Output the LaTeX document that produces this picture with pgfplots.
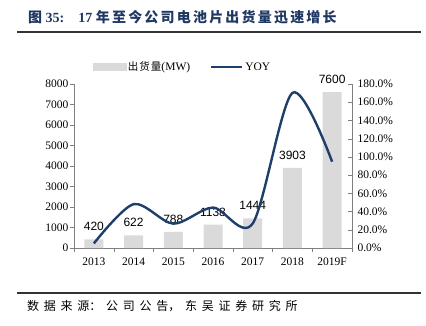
\documentclass[border=0pt]{standalone}
\usepackage{pgfplots}
\pgfplotsset{compat=1.18}
\usepackage{fontspec}
\setmainfont{Liberation Serif}
\newfontfamily\cjk{Noto Sans CJK SC}
\newfontfamily\arial{Liberation Sans}
\definecolor{navy}{HTML}{1F3F6B}
\definecolor{barg}{HTML}{DADADA}
\definecolor{titlec}{HTML}{1F3763}
\definecolor{axc}{HTML}{7F7F7F}
\newcommand\g{\hspace{2.2pt}}
\newcommand\s{\hspace{4.75pt}}
\begin{document}
\begin{tikzpicture}
\path[use as bounding box] (0,0) rectangle (426pt,-325pt);
\node[anchor=west, text=titlec, inner sep=0pt, font=\fontsize{14}{14}\selectfont\bfseries] at (28pt,-17pt)
  {{\cjk 图} 35:\hspace{14pt}17 {\cjk 年\g 至\g 今\g 公\g 司\g 电\g 池\g 片\g 出\g 货\g 量\g 迅\g 速\g 增\g 长}};
\draw[line width=1.5pt, color=black!80] (17pt,-32pt) -- (421pt,-32pt);
\begin{axis}[
  at={(74pt,-248pt)}, anchor=south west, scale only axis,
  width=278pt, height=164pt,
  ybar, bar width=19pt,
  xmin=-0.5, xmax=6.5, ymin=0, ymax=8000,
  axis y line*=left, axis x line*=bottom,
  axis line style={color=axc},
  ytick={0,1000,...,8000},
  xtick={-0.5,0.5,...,6.5},
  x tick label as interval,
  xticklabels={2013,2014,2015,2016,2017,2018,2019F},
  scaled y ticks=false,
  /pgf/number format/1000 sep={},
  /pgf/number format/assume math mode=true,
  tick label style={font=\fontsize{11.5}{11.5}\selectfont},
  tick align=center, major tick length=4pt,
  x tick style={color=axc, yshift=-2pt},
  y tick style={color=axc, xshift=-2pt},
  xticklabel style={yshift=-4pt},
  nodes near coords,
  every node near coord/.append style={font=\arial\fontsize{12}{12}\selectfont, yshift=5pt, text=black},
]
\addplot[fill=barg, draw=none] coordinates {(0,420) (1,622) (2,788) (3,1138) (4,1444) (5,3903) (6,7600)};
\end{axis}
\begin{axis}[
  at={(74pt,-248pt)}, anchor=south west, scale only axis,
  width=278pt, height=164pt,
  xmin=-0.5, xmax=6.5, ymin=0, ymax=180,
  axis x line=none, axis y line*=right,
  axis line style={color=axc},
  ytick={0,20,...,180},
  yticklabel={\pgfmathprintnumber[fixed,fixed zerofill,precision=1]{\tick}\%},
  /pgf/number format/assume math mode=true,
  tick label style={font=\fontsize{11.5}{11.5}\selectfont},
  tick align=center, major tick length=4pt,
  y tick style={color=axc, xshift=-2pt},
  legend columns=2,
  legend style={draw=none, fill=none, inner sep=0pt, at={(axis description cs:0.066,1.104)}, anchor=west,
    font=\fontsize{11.5}{11.5}\selectfont, /tikz/every even column/.append style={column sep=18pt}},
  legend cell align=left,
]
\addlegendimage{legend image code/.code={\fill[barg] (0pt,-3.5pt) rectangle (33pt,3.5pt);}}
\addlegendentry{{\cjk\fontsize{10.5}{10.5}\selectfont 出\hspace{1pt}货\hspace{1pt}量}(MW)}
\addplot[navy, line width=2.4pt, smooth, legend image code/.code={\draw[navy, line width=2.2pt] (0pt,0pt) -- (31pt,0pt);}]
  coordinates {(0,5) (1,48.1) (2,26.7) (3,44.4) (4,26.9) (5,170.3) (6,94.7)};
\addlegendentry{YOY}
\end{axis}
\draw[line width=1.5pt, color=black!80] (17pt,-293pt) -- (421pt,-293pt);
\node[anchor=west, inner sep=0pt, font=\cjk\fontsize{12}{12}\selectfont] at (27pt,-306pt)
  {数\s 据\s 来\s 源：\s 公\s 司\s 公\s 告，\s 东\s 吴\s 证\s 券\s 研\s 究\s 所};
\end{tikzpicture}
\end{document}
